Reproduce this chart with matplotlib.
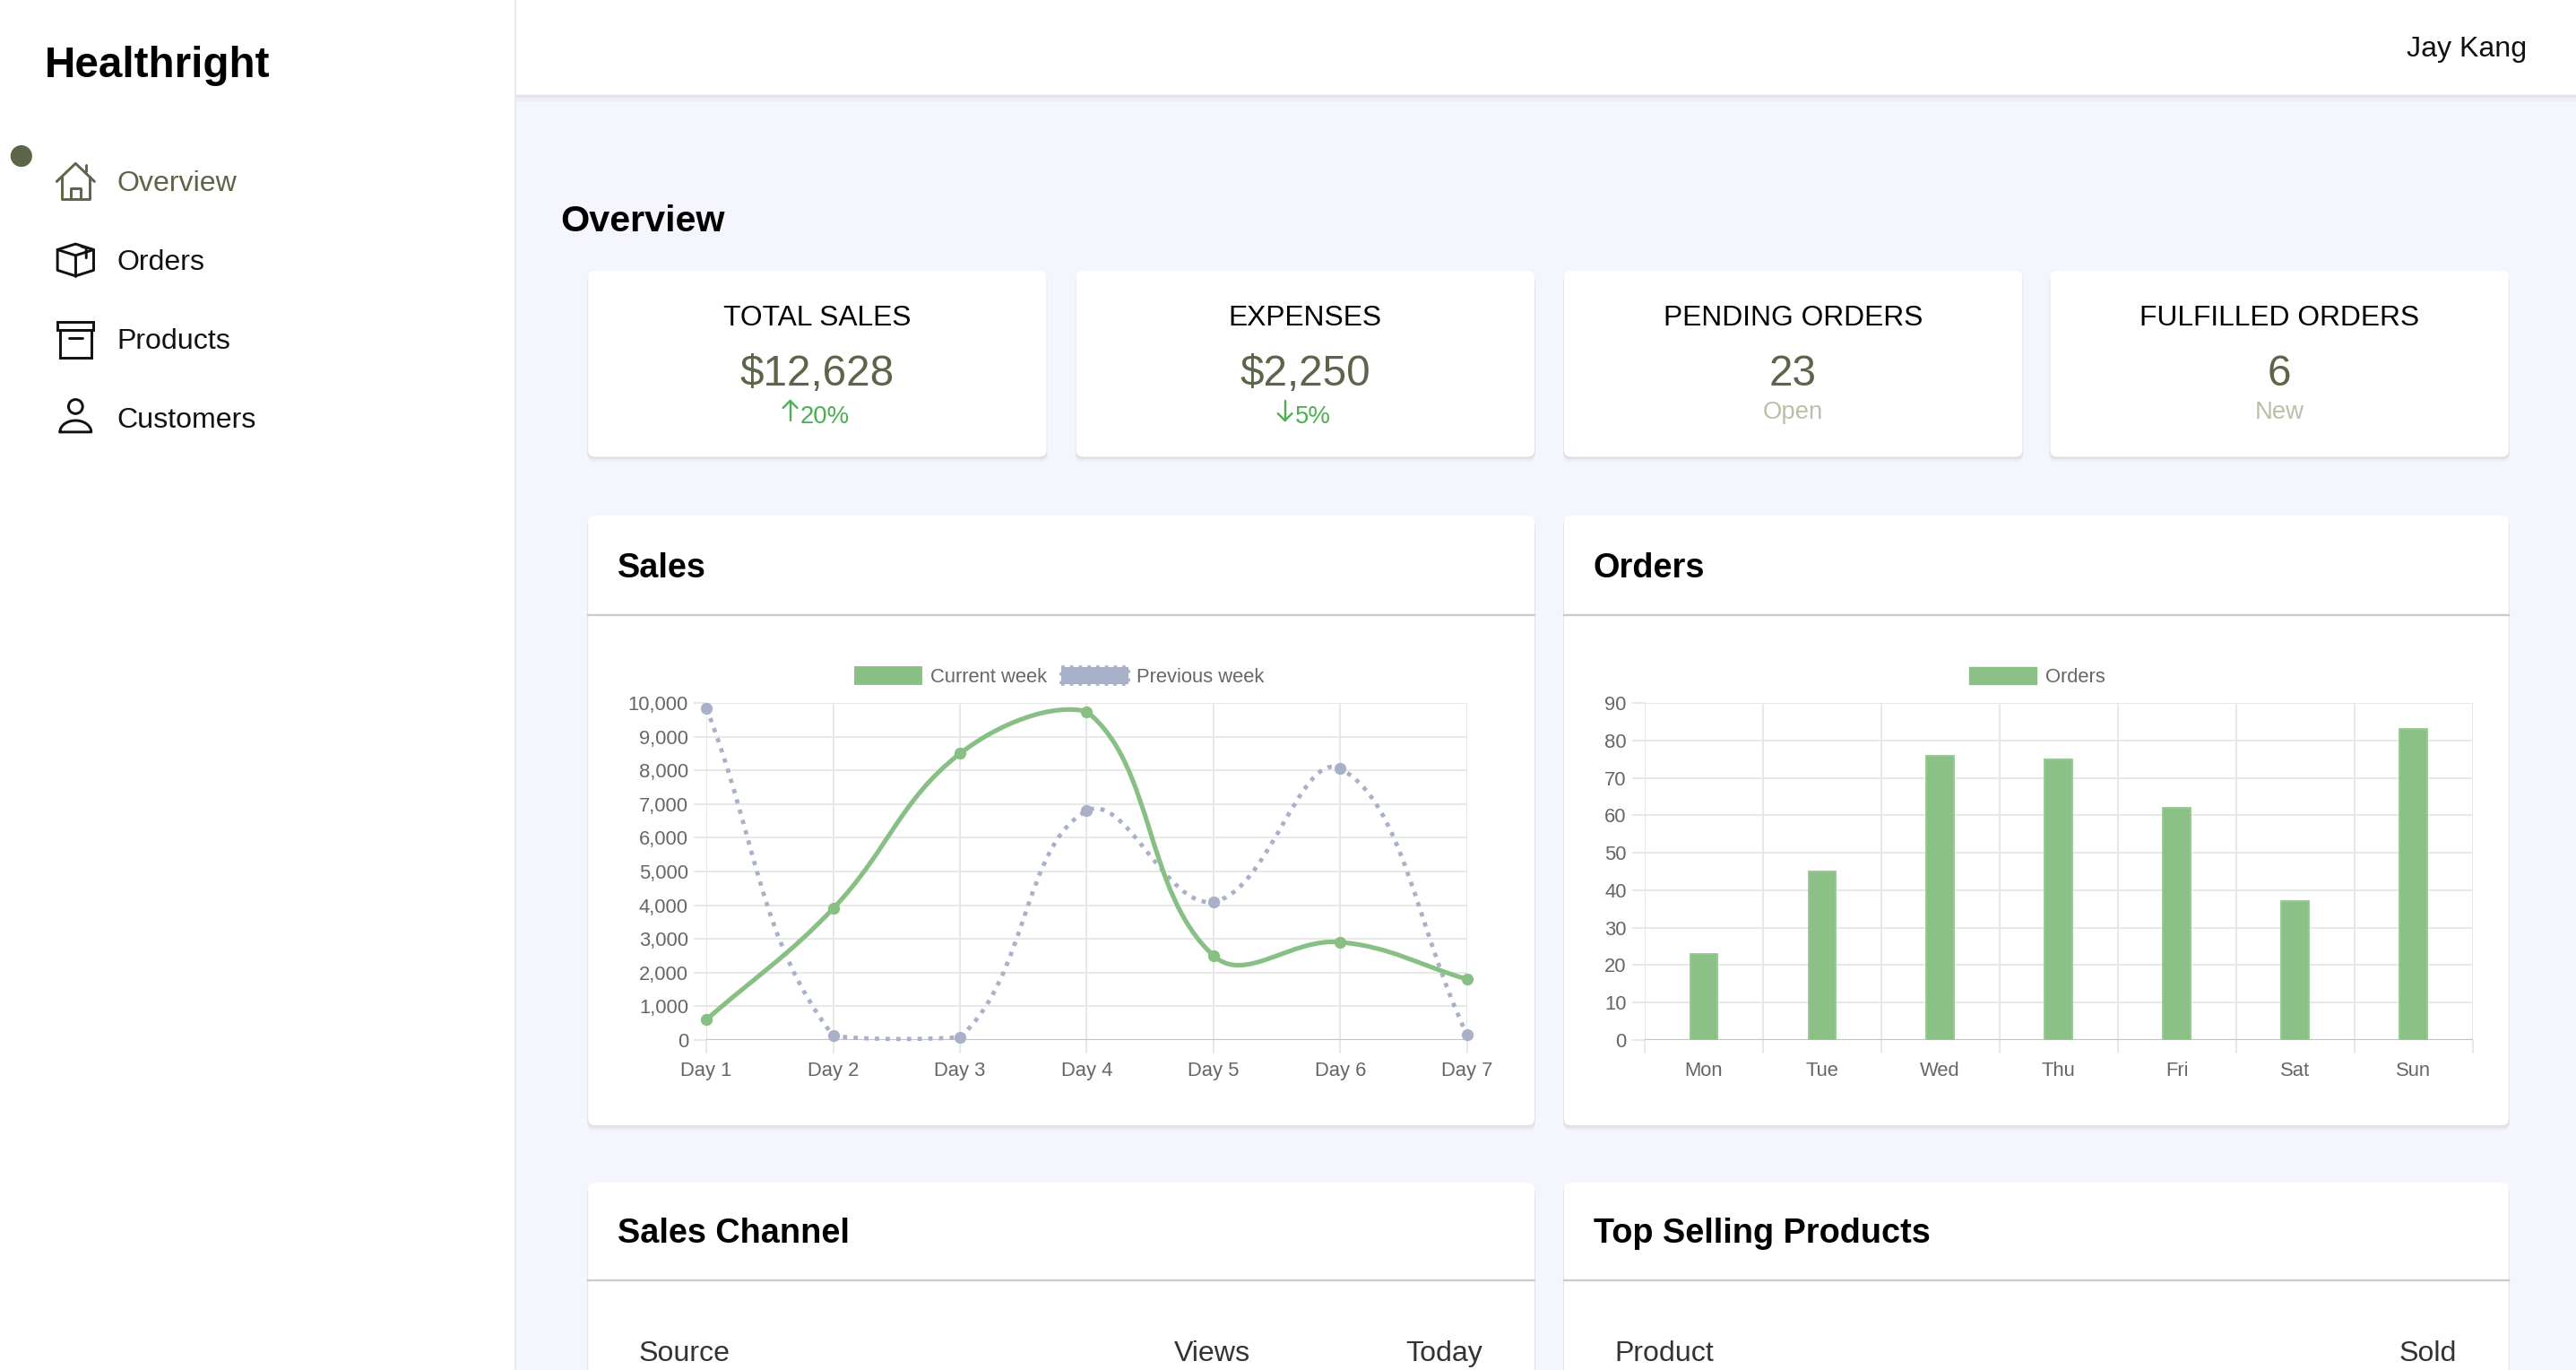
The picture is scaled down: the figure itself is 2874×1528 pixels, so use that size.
import matplotlib
matplotlib.use("Agg")
import matplotlib.pyplot as plt
from matplotlib.patches import FancyBboxPatch, Rectangle, Circle, Patch, PathPatch, Polygon
from matplotlib.path import Path
from matplotlib.ticker import FuncFormatter
import numpy as np

plt.rcParams['font.family'] = ['Liberation Sans', 'DejaVu Sans']

# ---- data ----
days = ['Day 1', 'Day 2', 'Day 3', 'Day 4', 'Day 5', 'Day 6', 'Day 7']
current_week = [600, 3900, 8500, 9750, 2500, 2900, 1800]
previous_week = [9850, 120, 80, 6800, 4100, 8050, 150]

weekdays = ['Mon', 'Tue', 'Wed', 'Thu', 'Fri', 'Sat', 'Sun']
orders = [23, 45, 76, 75, 62, 37, 83]

nav_items = ['Overview', 'Orders', 'Products', 'Customers']
stat_titles = ['TOTAL SALES', 'EXPENSES', 'PENDING ORDERS', 'FULFILLED ORDERS']
stat_values = ['$12,628', '$2,250', '23', '6']
stat_trend = ['up', 'down', None, None]
stat_notes = ['20%', '5%', 'Open', 'New']

# ---- page geometry (screen units of a 1568x834 view) ----
W, H = 1568, 834
S = 2874 / W
DY = 2  # text baseline nudge
OLIVE = '#5c6449'
GREEN = '#88bf85'
GREY_LINE = '#a9b1c8'
TICK_C = '#666666'
GRID_C = '#e6e6e6'


def fs(px):
    return px * S * 0.72


def lw(px):
    return px * S * 0.72


def rect(l, t, r, b):
    return [l / W, 1 - b / H, (r - l) / W, (b - t) / H]


fig = plt.figure(figsize=(28.74, 15.28), dpi=100)
fig.patch.set_facecolor('#f4f5fd')
renderer = fig.canvas.get_renderer()

bg = fig.add_axes([0, 0, 1, 1])
bg.set_xlim(0, W)
bg.set_ylim(H, 0)
bg.axis('off')
bg.set_zorder(0)


def txt(x, y, s, **kw):
    return bg.text(x, y + DY, s, va='center', **kw)


# sidebar + header
bg.add_patch(Rectangle((0, 0), 313, H, color='white'))
bg.plot([313.5, 313.5], [0, H], color='#e7e7ee', lw=lw(1))
bg.add_patch(Rectangle((314, 0), W - 314, 58, color='white'))
bg.add_patch(Rectangle((314, 58), W - 314, 1.5, color='#e3e4ee'))
bg.add_patch(Rectangle((314, 59.5), W - 314, 1.5, color='#eceef8'))


def card(x, y, w, h):
    for off, a in [(3, 0.03), (1.5, 0.05)]:
        bg.add_patch(FancyBboxPatch((x - 0.5, y + off), w + 1, h, boxstyle='round,pad=0,rounding_size=4',
                                    fc='black', ec='none', alpha=a))
    bg.add_patch(FancyBboxPatch((x, y), w, h, boxstyle='round,pad=0,rounding_size=4',
                                fc='white', ec='none'))


# brand + nav
txt(27, 38, 'Healthright', fontsize=fs(26), fontweight='bold', ha='left', color='black')
bg.add_patch(Circle((13, 95), 6.2, color=OLIVE))
nav_y = [110, 158, 206, 254]
for i, (name, y) in enumerate(zip(nav_items, nav_y)):
    txt(71, y, name, fontsize=fs(17.5), ha='left', color=OLIVE if i == 0 else '#111111')

ic = dict(lw=lw(1.6), solid_capstyle='round', solid_joinstyle='round')
# house
bg.plot([34.5, 46, 57.5], [110.5, 99.5, 110.5], color=OLIVE, **ic)
bg.plot([37.5, 37.5, 54.5, 54.5], [107.5, 121, 121, 107.5], color=OLIVE, **ic)
bg.plot([43, 43, 49, 49], [121, 114.5, 114.5, 121], color=OLIVE, **ic)
bg.plot([52.5, 52.5], [104.5, 100.5], color=OLIVE, **ic)
# box
bg.add_patch(Polygon([(35, 152), (46, 148.5), (57, 152), (57, 164.5), (46, 168), (35, 164.5)],
                     closed=True, fill=False, ec='#111111', lw=lw(1.6), joinstyle='round'))
bg.plot([35, 46, 57], [152, 155.5, 152], color='#111111', **ic)
bg.plot([46, 46], [155.5, 168], color='#111111', **ic)
bg.plot([49.5, 52.5, 52.5], [150, 151, 157], color='#111111', **ic)
# archive
bg.add_patch(Rectangle((35, 196), 22, 5, fill=False, ec='#111111', lw=lw(1.6)))
bg.add_patch(Rectangle((36.5, 201), 19, 17, fill=False, ec='#111111', lw=lw(1.6)))
bg.plot([42, 50], [205.5, 205.5], color='#111111', **ic)
# person
bg.add_patch(Circle((46, 247.5), 4.3, fill=False, ec='#111111', lw=lw(1.6)))
t = np.linspace(np.pi, 0, 40)
px = np.r_[46 + 9.5 * np.cos(t), 36.5]
py = np.r_[263 - 7 * np.sin(t), 263]
bg.plot(px, py, color='#111111', **ic)

# header user + page title
txt(1538, 28, 'Jay Kang', fontsize=fs(17.5), ha='right', color='#111111')
txt(341, 133, 'Overview', fontsize=fs(22.5), fontweight='bold', ha='left', color='black')

# stat cards
card_x = [358, 655, 952, 1248]
for i, x in enumerate(card_x):
    card(x, 165, 279, 113)
    cx = x + 139.5
    txt(cx, 192, stat_titles[i], fontsize=fs(17.3), ha='center', color='black')
    txt(cx, 226, stat_values[i], fontsize=fs(26), ha='center', color=OLIVE)
    if stat_trend[i]:
        tn = txt(cx + 4.5, 252, stat_notes[i], fontsize=fs(15), ha='center', color='#4caf50')
        half = tn.get_window_extent(renderer).width / S / 2
        ax_x = cx + 4.5 - half - 6
        tip, tail = (244, 256) if stat_trend[i] == 'up' else (256, 244)
        d = 4.3 if stat_trend[i] == 'up' else -4.3
        bg.plot([ax_x, ax_x], [tail, tip], color='#4caf50', lw=lw(1.3), solid_capstyle='round')
        bg.plot([ax_x - 4.3, ax_x, ax_x + 4.3], [tip + d, tip, tip + d], color='#4caf50',
                lw=lw(1.3), solid_capstyle='round', solid_joinstyle='round')
    else:
        txt(cx, 249, stat_notes[i], fontsize=fs(15), ha='center', color='#b9c0aa')

# chart cards
for x, w, title in [(358, 576, 'Sales'), (952, 575, 'Orders')]:
    card(x, 314, w, 371)
    txt(x + 18, 344, title, fontsize=fs(20.7), fontweight='bold', ha='left', color='black')
    bg.plot([x, x + w], [374.5, 374.5], color='#cccccc', lw=lw(1.3))

# bottom cards
for x, w, title in [(358, 576, 'Sales Channel'), (952, 575, 'Top Selling Products')]:
    card(x, 720, w, 140)
    txt(x + 18, 749, title, fontsize=fs(20.7), fontweight='bold', ha='left', color='black')
    bg.plot([x, x + w], [779.5, 779.5], color='#cccccc', lw=lw(1.3))

hdr = dict(fontsize=fs(17.5), color='#333333')
txt(389, 822, 'Source', ha='left', **hdr)
txt(738, 822, 'Views', ha='center', **hdr)
txt(879, 822, 'Today', ha='center', **hdr)
txt(983, 822, 'Product', ha='left', **hdr)
txt(1478, 822, 'Sold', ha='center', **hdr)


def style_axes(ax):
    ax.set_facecolor('none')
    for s in ax.spines.values():
        s.set_visible(False)
    ax.tick_params(which='both', color=GRID_C, width=lw(1), labelcolor=TICK_C, labelsize=fs(12))
    ax.tick_params(axis='x', which='both', length=lw(8), pad=lw(5.5))
    ax.tick_params(axis='y', which='both', length=lw(7.5), pad=lw(3.5))
    ax.set_axisbelow(True)


def chartjs_path(ax, xs, ys, tension=0.4):
    pts = ax.transData.transform(np.column_stack([xs, ys]).astype(float))
    n = len(pts)
    cprev = pts.copy()
    cnext = pts.copy()
    for i in range(n):
        p0 = pts[max(i - 1, 0)]
        p1 = pts[i]
        p2 = pts[min(i + 1, n - 1)]
        d01 = np.hypot(*(p1 - p0))
        d12 = np.hypot(*(p2 - p1))
        tot = d01 + d12
        s01 = d01 / tot if tot else 0
        s12 = d12 / tot if tot else 0
        cprev[i] = p1 - tension * s01 * (p2 - p0)
        cnext[i] = p1 + tension * s12 * (p2 - p0)
    bb = ax.bbox
    for c in (cprev, cnext):
        c[:, 0] = np.clip(c[:, 0], bb.x0, bb.x1)
        c[:, 1] = np.clip(c[:, 1], bb.y0, bb.y1)
    verts = [pts[0]]
    codes = [Path.MOVETO]
    for i in range(n - 1):
        verts += [cnext[i], cprev[i + 1], pts[i + 1]]
        codes += [Path.CURVE4] * 3
    return Path(ax.transData.inverted().transform(np.array(verts)), codes)


# ---- sales line chart ----
ax1 = fig.add_axes(rect(430, 428, 893, 633))
ax1.set_zorder(1)
style_axes(ax1)
x_idx = np.arange(len(days))
ax1.set_xlim(0, len(days) - 1)
ax1.set_ylim(0, 10000)
ax1.set_xticks(x_idx)
ax1.set_xticklabels(days)
ax1.set_yticks(np.arange(0, 10001, 1000))
ax1.yaxis.set_major_formatter(FuncFormatter(lambda v, p: f'{int(v):,}'))
ax1.grid(True, color=GRID_C, lw=lw(1))
ax1.axhline(0, color='#c4c4c4', lw=lw(1.2), zorder=1)

ax1.add_patch(PathPatch(chartjs_path(ax1, x_idx, previous_week), fill=False, ec=GREY_LINE,
                        lw=lw(2.6), linestyle=(0, (1.0, 1.5)), zorder=2, clip_on=False))
ax1.add_patch(PathPatch(chartjs_path(ax1, x_idx, current_week), fill=False, ec=GREEN,
                        lw=lw(2.8), zorder=3, clip_on=False, capstyle='round'))
ax1.plot(x_idx, previous_week, 'o', color=GREY_LINE, ms=lw(6.5), mec=GREY_LINE, zorder=4, clip_on=False)
ax1.plot(x_idx, current_week, 'o', color=GREEN, ms=lw(6.5), mec=GREEN, zorder=5, clip_on=False)

h_cur = Patch(fc=GREEN, ec=GREEN, lw=lw(1))
h_prev = Patch(fc=GREY_LINE, ec=GREY_LINE, lw=lw(2), linestyle=':')
fig.legend([h_cur, h_prev], ['Current week', 'Previous week'], loc='center',
           bbox_to_anchor=(645 / W, 1 - 412 / H), ncol=2, frameon=False,
           fontsize=fs(12), labelcolor=TICK_C, handlelength=3.4, handleheight=1.0,
           handletextpad=0.45, columnspacing=0.7, borderpad=0)

# ---- orders bar chart ----
ax2 = fig.add_axes(rect(1001, 428, 1505, 633))
ax2.set_zorder(1)
style_axes(ax2)
b_idx = np.arange(len(weekdays))
ax2.set_xlim(-0.5, len(weekdays) - 0.5)
ax2.set_ylim(0, 90)
ax2.set_xticks(b_idx)
ax2.set_xticklabels(weekdays)
ax2.set_xticks(np.arange(-0.5, len(weekdays)), minor=True)
ax2.tick_params(axis='x', which='major', length=0, pad=lw(13.5))
ax2.set_yticks(np.arange(0, 91, 10))
ax2.grid(True, axis='y', which='major', color=GRID_C, lw=lw(1))
ax2.grid(True, axis='x', which='minor', color=GRID_C, lw=lw(1))
ax2.axhline(0, color='#c4c4c4', lw=lw(1.2), zorder=1)
ax2.bar(b_idx, orders, width=0.23, color='#8bc087', edgecolor='#97c893', lw=lw(1), zorder=3)

fig.legend([Patch(fc='#8bc087', ec='#8bc087')], ['Orders'], loc='center',
           bbox_to_anchor=(1240 / W, 1 - 412 / H), frameon=False,
           fontsize=fs(12), labelcolor=TICK_C, handlelength=3.4, handleheight=1.0,
           handletextpad=0.45, borderpad=0)

fig.savefig('out.png', dpi=100, facecolor=fig.get_facecolor())
